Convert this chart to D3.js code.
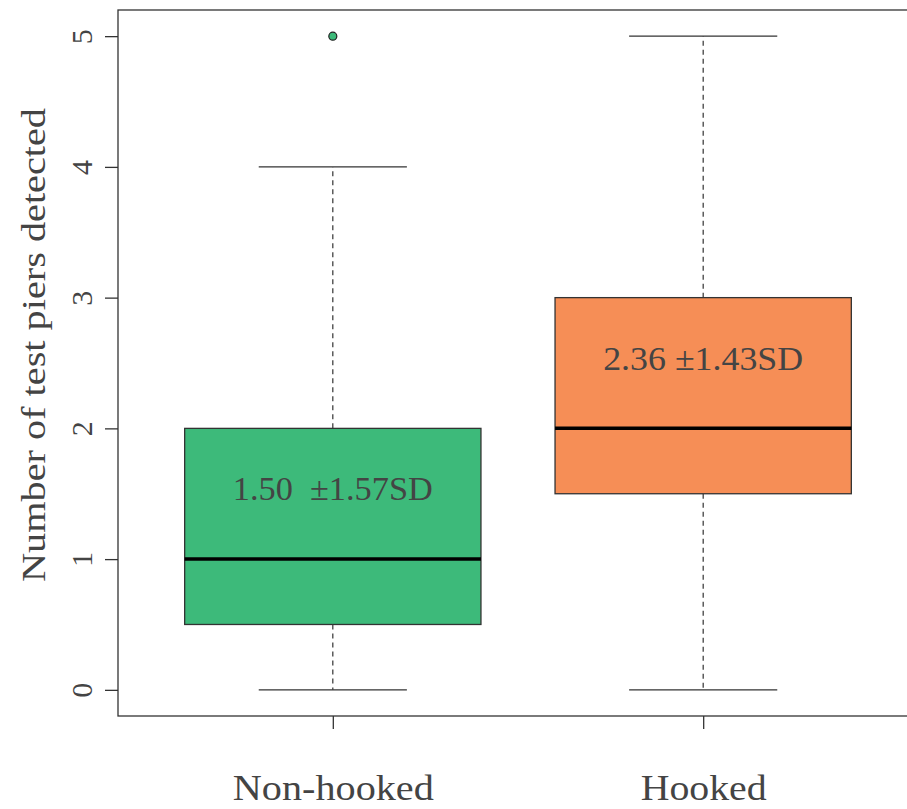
<!DOCTYPE html>
<html><head><meta charset="utf-8">
<script src="https://cdn.jsdelivr.net/npm/d3@7"></script>
<style>
html,body{margin:0;padding:0;background:#fff;}
svg{display:block;}
text{font-family:"Liberation Serif","DejaVu Serif",serif;fill:#444;}
</style></head>
<body>
<svg id="chart" width="907" height="809"></svg>
<script>
const categories = ["Non-hooked", "Hooked"];
const whiskerLow = [0, 0];
const q1 = [0.5, 1.5];
const median = [1, 2];
const q3 = [2, 3];
const whiskerHigh = [4, 5];
const outliers = [[5], []];
const colors = ["#3dba7a", "#f68e56"];
const annotations = ["1.50  \u00b11.57SD", "2.36 \u00b11.43SD"];
const annotationY = [1.54, 2.54];
const yTicks = [0, 1, 2, 3, 4, 5];

const svg = d3.select("#chart");
const x = d3.scaleLinear().domain([0.42, 2.58]).range([118, 918]);
const y = d3.scaleLinear().domain([-0.2, 5.2]).range([716, 10]);
const boxW = x(0.8) - x(0);
const capW = x(0.4) - x(0);
const stroke = "#333";

const data = categories.map((c, i) => ({c, i, pos: i + 1, lo: whiskerLow[i], q1: q1[i], med: median[i], q3: q3[i], hi: whiskerHigh[i], out: outliers[i], col: colors[i], ann: annotations[i], annY: annotationY[i]}));

const g = svg.selectAll("g.box").data(data).join("g").attr("class", "box");
g.append("line").attr("x1", d => x(d.pos)).attr("x2", d => x(d.pos)).attr("y1", d => y(d.q3)).attr("y2", d => y(d.hi))
  .attr("stroke", stroke).attr("stroke-width", 1.2).attr("stroke-dasharray", "5,4");
g.append("line").attr("x1", d => x(d.pos)).attr("x2", d => x(d.pos)).attr("y1", d => y(d.q1)).attr("y2", d => y(d.lo))
  .attr("stroke", stroke).attr("stroke-width", 1.2).attr("stroke-dasharray", "5,4");
g.append("line").attr("x1", d => x(d.pos) - capW / 2).attr("x2", d => x(d.pos) + capW / 2).attr("y1", d => y(d.hi)).attr("y2", d => y(d.hi))
  .attr("stroke", stroke).attr("stroke-width", 1.3);
g.append("line").attr("x1", d => x(d.pos) - capW / 2).attr("x2", d => x(d.pos) + capW / 2).attr("y1", d => y(d.lo)).attr("y2", d => y(d.lo))
  .attr("stroke", stroke).attr("stroke-width", 1.3);
g.append("rect").attr("x", d => x(d.pos) - boxW / 2).attr("width", boxW)
  .attr("y", d => y(d.q3)).attr("height", d => y(d.q1) - y(d.q3))
  .attr("fill", d => d.col).attr("stroke", stroke).attr("stroke-width", 1.3);
g.append("line").attr("x1", d => x(d.pos) - boxW / 2).attr("x2", d => x(d.pos) + boxW / 2).attr("y1", d => y(d.med)).attr("y2", d => y(d.med))
  .attr("stroke", "#000").attr("stroke-width", 3.5);
g.selectAll("circle").data(d => d.out.map(v => ({v, d}))).join("circle")
  .attr("cx", o => x(o.d.pos)).attr("cy", o => y(o.v)).attr("r", 4)
  .attr("fill", o => o.d.col).attr("stroke", "#222").attr("stroke-width", 1.2);
g.append("text").attr("x", d => x(d.pos)).attr("y", d => y(d.annY)).attr("dy", "0.35em")
  .attr("text-anchor", "middle").attr("font-size", 34).attr("xml:space", "preserve").style("white-space", "pre")
  .attr("textLength", 200).attr("lengthAdjust", "spacingAndGlyphs")
  .text(d => d.ann);

svg.append("rect").attr("x", 118).attr("y", 10).attr("width", 800).attr("height", 706)
  .attr("fill", "none").attr("stroke", stroke).attr("stroke-width", 1.3);

const yAxis = d3.axisLeft(y).tickValues(yTicks).tickSize(13).tickPadding(0).tickFormat(d3.format("d"));
const ya = svg.append("g").attr("transform", "translate(118,0)").call(yAxis);
ya.select(".domain").remove();
ya.selectAll(".tick line").attr("stroke", stroke).attr("stroke-width", 1.3);
ya.selectAll(".tick text").attr("x", null).attr("dy", null)
  .attr("transform", "translate(-26,0) rotate(-90)").attr("text-anchor", "middle").attr("dy", "0")
  .attr("font-size", 30).attr("font-family", null).attr("fill", "#444");

const xAxis = d3.axisBottom(x).tickValues([1, 2]).tickSize(13).tickPadding(46).tickFormat((d, i) => categories[i]);
const xa = svg.append("g").attr("transform", "translate(0,716)").call(xAxis);
xa.select(".domain").remove();
xa.selectAll(".tick line").attr("stroke", stroke).attr("stroke-width", 1.3);
xa.selectAll(".tick text").attr("font-size", 35).attr("font-family", null).attr("fill", "#444")
  .attr("textLength", (d, i) => i === 0 ? 201 : 126).attr("lengthAdjust", "spacingAndGlyphs");

svg.append("text").attr("transform", "translate(45,345) rotate(-90)").attr("text-anchor", "middle")
  .attr("font-size", 34).attr("textLength", 474).attr("lengthAdjust", "spacingAndGlyphs")
  .text("Number of test piers detected");
</script>
</body></html>
